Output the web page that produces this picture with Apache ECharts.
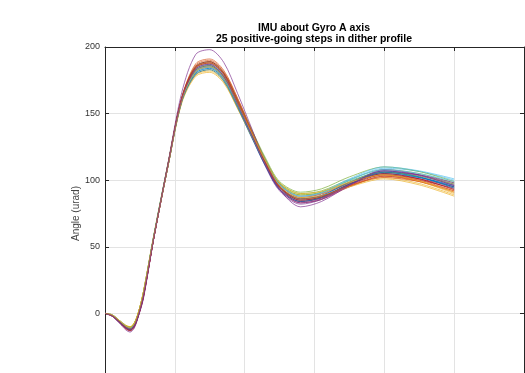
<!DOCTYPE html>
<html>
<head>
<meta charset="utf-8">
<script src="https://cdn.jsdelivr.net/npm/echarts@6/dist/echarts.min.js"></script>
<style>
html,body{margin:0;padding:0;background:#fff;overflow:hidden;}
#chart{width:525px;height:373px;}
</style>
</head>
<body>
<div id="chart"></div>
<script>
// Shared x sample positions (time, arbitrary units matching the grid)
const xValues = [0, 0.1, 0.2, 0.3, 0.36, 0.42, 0.48, 0.55, 0.7, 0.9, 1.1, 1.3, 1.5, 1.7, 1.9, 2.1, 2.3, 2.5, 2.8, 3.1, 3.5, 4.0, 4.5, 5.0];

// 25 step responses (urad)
const step01 = [0,-1.5,-5.5,-9.5,-11,-8,0.5,15, 58,111,160,182.5,186,177.5,157,135,113,95.5,86,88.5,98,106,102.5,95];
const step02 = [0,-1.5,-6,-10.5,-12,-9,-0.5,13, 57,110,161,185,189,180.5,160,137,115,97,88,90,98.5,105,101,93];
const step03 = [0,-1,-5,-9,-10,-7,1,16, 58,110,159,179,182,174,154,133,112,96,89,90.5,98,104,99,90];
const step04 = [0,-1.5,-6,-11,-12.5,-9.5,-1,13, 57,111,160,181.5,185,176.5,156,133,111,94,84,87,97,107,104,97];
const step05 = [0,-1.5,-5.5,-9.5,-10.5,-7.5,1,16, 59,112,162,184.5,188,179.5,159,137,115,98,90,92,100.5,108,105,98];
const step06 = [0,-1,-5,-9.5,-11,-8,0,15, 58,111,160,180.5,184,175.5,155.5,134,113,96.5,87,90,100,109,106.5,100];
const step07 = [0,-2,-6.5,-11.5,-13,-10,-1.5,12, 57,110,161,183.5,187,178,157,134,111,93,83,85.5,95,103,100,94];
const step08 = [0,-1.5,-5.5,-10,-11.5,-8.5,0,14, 58,111,160,181.5,185,177,156.5,134,112,94.5,85,87.5,97,105,102,96];
const step09 = [0,-1.5,-6,-11,-12.5,-9.5,-1,13, 57,111,162,186.5,190,181.5,161,138,115,97,87,89.5,97.5,104,100,92];
const step10 = [0,-1,-5,-9.5,-10.5,-7.5,1,16, 58,110,159,179.5,183,175,155,133,111.5,94.5,86,87.5,95.5,102,97.5,89];
const step11 = [0,-2,-6.5,-11.5,-13,-10,-1.5,12, 57,111,161,182.5,186,177.5,156.5,133,110,92,82,85.5,96,106,104,98];
const step12 = [0,-1.5,-5.5,-9.5,-10.5,-7.5,1,16, 59,112,162,185.5,189,180.5,160,138,116.5,99,91,93.5,102.5,110,106.5,99];
const step13 = [0,-1,-5,-9.5,-11,-8,0,15, 58,111,161,183.5,187,178.5,158.5,136.5,115,97,88,91,101,110,107,101];
const step14 = [0,-1.5,-6,-11,-12.5,-9.5,-1,13, 57,111,161,184.5,188,179.5,158,135,112,94,84,86.5,96,104,101,95];
const step15 = [0,-1.5,-5.5,-10,-11.5,-8.5,0,14, 58,110,160,180.5,184,176,156,134,112.5,95,86,88.5,98.5,107,102.5,94];
const step16 = [0,-2,-6.5,-11.5,-13,-10,-1.5,12, 57,111,162,187.5,191,182.5,161.5,137,113.5,95,85,87,95.5,103,99,91];
const step17 = [0,-1,-5,-9,-10,-7,1,16, 58,110,158,178,181,173,153.5,132.5,112,95.5,87,88.5,95,101,96.5,88];
const step18 = [0,-2,-7,-12.5,-14,-11,-2,11, 57,112,166,194.5,198,188.5,165,139,113,93,80,84,96,108,104,96];
const step19 = [0,-1.5,-5.5,-9.5,-10.5,-7.5,0.5,15, 58,111,160,182.5,186,177.5,157.5,136,115,97.5,89,91,99.5,106,103,97];
const step20 = [0,-1,-5,-9.5,-11,-8,0,15, 58,111,160,181.5,185,176.5,156.5,135,114,96.5,88,90.5,100,108,105,99];
const step21 = [0,-1.5,-6,-11,-12.5,-9.5,-1,13, 57,111,162,185.5,189,180.5,159.5,136,113,95,85,87.5,97,105,101,93];
const step22 = [0,-1.5,-6,-10.5,-12,-9,-0.5,14, 58,110,159,179.5,183,174.5,154.5,132,110.5,93,84,87,97,106,102,95];
const step23 = [0,-1.5,-5.5,-10,-11.5,-8.5,0,14, 58,111,161,184.5,188,179.5,159,136,113.5,95.5,86,88,96,102,99,92];
const step24 = [0,-1,-5,-9.5,-10.5,-7.5,1,16, 58,110,160,181.5,185,177,157,135.5,114.5,98,90,91.5,98.5,104,99.5,91];
const step25 = [0,-2,-6.5,-11,-12.5,-9.5,-1,13, 57,111,161,183.5,187,178,157,134,111,93,83,86,96.5,107,103.5,96];

const steps = [step01,step02,step03,step04,step05,step06,step07,step08,step09,step10,
  step11,step12,step13,step14,step15,step16,step17,step18,step19,step20,
  step21,step22,step23,step24,step25];

const yTicks = [-50, 0, 50, 100, 150, 200];
const titleLines = ['IMU about Gyro A axis', '25 positive-going steps in dither profile'];
const yName = 'Angle (urad)';

const palette = ['#0072BD','#D95319','#EDB120','#7E2F8E','#77AC30','#4DBEEE','#A2142F'];

const chart = echarts.init(document.getElementById('chart'), null, {renderer:'canvas'});
const axisCol = '#262626';
const gridCol = '#e3e3e3';
const font = 'Liberation Sans';

const series = steps.map((s, k) => ({
  type: 'line',
  data: xValues.map((x, i) => [x, s[i]]),
  smooth: 0.3,
  symbol: 'none',
  xAxisIndex: 0, yAxisIndex: 0,
  lineStyle: {width: 0.75, color: palette[k % palette.length], opacity: 0.9},
  animation: false,
  z: 3
}));

chart.setOption({
  backgroundColor: '#fff',
  animation: false,
  graphic: [
    {type:'text', x: 314, y: 23, style:{text: titleLines[0], textAlign:'center', font:'bold 10.5px "Liberation Sans"', fill:'#000'}},
    {type:'text', x: 314, y: 34, style:{text: titleLines[1], textAlign:'center', font:'bold 10.5px "Liberation Sans"', fill:'#000'}}
  ],
  grid: {left: 105, width: 419, top: 47, height: 333, containLabel: false, outerBoundsMode: 'none'},
  xAxis: [
    {type:'value', min:0, max:6, interval:1, position:'bottom',
     axisLine:{show:true, onZero:false, lineStyle:{color:axisCol, width:1}},
     axisTick:{show:true, inside:true, length:4, lineStyle:{color:axisCol}},
     axisLabel:{show:false},
     splitLine:{show:true, lineStyle:{color:gridCol, width:1}}},
    {type:'value', min:0, max:6, interval:1, position:'top',
     axisLine:{show:true, onZero:false, lineStyle:{color:axisCol, width:1}},
     axisTick:{show:true, inside:true, length:4, lineStyle:{color:axisCol}},
     axisLabel:{show:false}, splitLine:{show:false}}
  ],
  yAxis: [
    {type:'value', min: yTicks[0], max: yTicks[yTicks.length-1], interval:50, position:'left',
     name: yName, nameLocation:'middle', nameGap: 24, nameRotate: 90, nameMoveOverlap: false,
     nameTextStyle:{fontFamily:font, fontSize:10, color:'#444'},
     axisLine:{show:true, onZero:false, lineStyle:{color:axisCol, width:1}},
     axisTick:{show:true, inside:true, length:4, lineStyle:{color:axisCol}},
     axisLabel:{show:true, fontFamily:font, fontSize:9, color:'#333', margin:5},
     splitLine:{show:true, lineStyle:{color:gridCol, width:1}}},
    {type:'value', min: yTicks[0], max: yTicks[yTicks.length-1], interval:50, position:'right',
     axisLine:{show:true, onZero:false, lineStyle:{color:axisCol, width:1}},
     axisTick:{show:true, inside:true, length:4, lineStyle:{color:axisCol}},
     axisLabel:{show:false}, splitLine:{show:false}}
  ],
  series: series
});
</script>
</body>
</html>
